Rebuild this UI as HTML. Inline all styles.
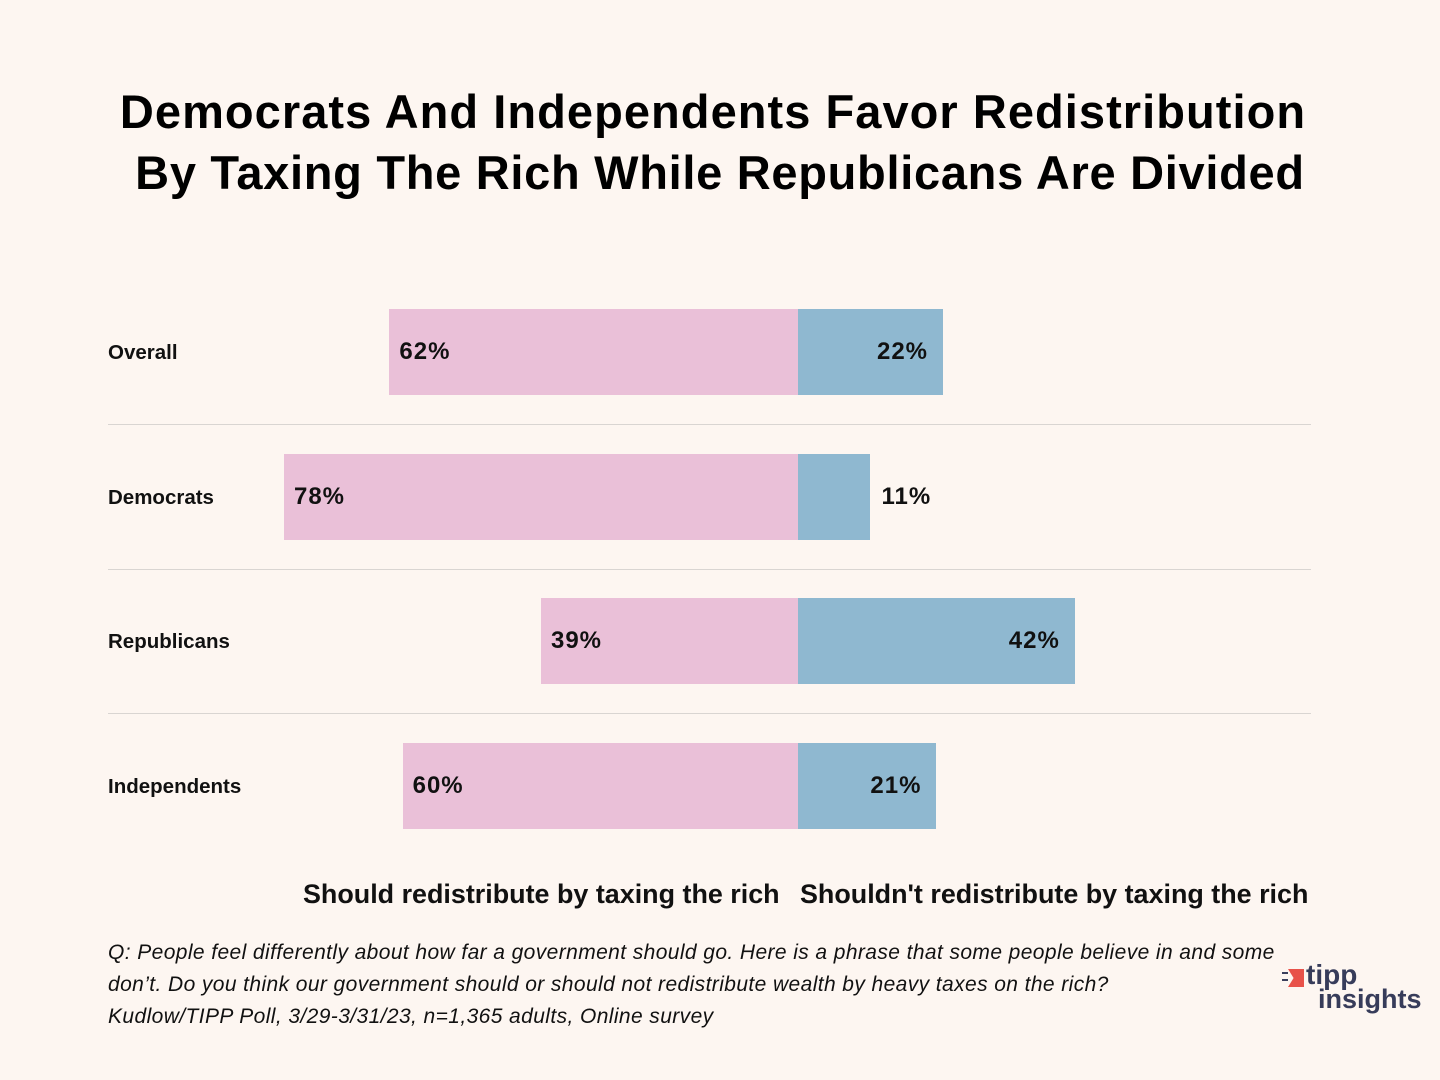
<!DOCTYPE html>
<html><head><meta charset="utf-8"><style>
body{margin:0;width:1440px;height:1080px;background:#fdf6f1;font-family:"Liberation Sans",sans-serif;overflow:hidden;position:relative}
.t{position:absolute;left:0;width:1426px;text-align:center;font-weight:bold;font-size:47px;color:#000;letter-spacing:1.05px}
.lbl{position:absolute;left:108px;font-weight:bold;font-size:20.5px;color:#111}
.bar{position:absolute;height:86px}
.v{position:absolute;font-weight:bold;font-size:24px;color:#111;letter-spacing:1px}
.sep{position:absolute;left:108px;width:1203px;height:1px;background:#d9d5d2}
.ax{position:absolute;top:879px;font-weight:bold;font-size:26.9px;color:#111}
.note{position:absolute;left:108px;font-style:italic;font-size:21px;letter-spacing:0.4px;color:#111}
</style></head><body>
<div class="t" style="top:84px">Democrats And Independents Favor Redistribution</div>
<div class="t" style="top:145px;left:7px;letter-spacing:0.7px">By Taxing The Rich While Republicans Are Divided</div>
<div id="chart"></div>
<div class="ax" style="left:303px">Should redistribute by taxing the rich</div>
<div class="ax" style="left:800px">Shouldn't redistribute by taxing the rich</div>
<div class="note" style="top:941px">Q: People feel differently about how far a government should go. Here is a phrase that some people believe in and some</div>
<div class="note" style="top:973px">don’t. Do you think our government should or should not redistribute wealth by heavy taxes on the rich?</div>
<div class="note" style="top:1005px">Kudlow/TIPP Poll, 3/29-3/31/23, n=1,365 adults, Online survey</div>
<div style="position:absolute;left:1282px;top:966px;width:145px;height:50px">
<div style="position:absolute;left:6px;top:3px;width:16px;height:18px;background:#e8524a;clip-path:polygon(0 0,100% 0,100% 100%,0 100%,35% 50%)"></div>
<div style="position:absolute;left:0;top:6px;width:6px;height:2px;background:#3a3f5c"></div>
<div style="position:absolute;left:0;top:13px;width:6px;height:2px;background:#3a3f5c"></div>
<div style="position:absolute;left:24px;top:-6px;font-weight:bold;font-size:28px;color:#373c5a;line-height:30px">tipp</div>
<div style="position:absolute;left:36px;top:18px;font-weight:bold;font-size:27px;color:#373c5a;line-height:30px">insights</div>
</div>
<script>
const categories=["Overall","Democrats","Republicans","Independents"];
const shouldVals=[62,78,39,60];
const shouldntVals=[22,11,42,21];
const chart=document.getElementById('chart');
const cx=798,pxPer=6.59,top0=309,pitch=144.7,bh=86;
function xs(v){return v*pxPer;}
categories.forEach((c,i)=>{
  const y=top0+i*pitch;
  const l=document.createElement('div');l.className='lbl';l.textContent=c;
  l.style.top=(y+32)+'px';
  
  
  chart.appendChild(l);
  const a=document.createElement('div');a.className='bar';
  a.style.cssText=`left:${cx-xs(shouldVals[i])}px;width:${xs(shouldVals[i])}px;top:${y}px;background:#eac0d8`;
  
  
  chart.appendChild(a);
  const b=document.createElement('div');b.className='bar';
  b.style.cssText=`left:${cx}px;width:${xs(shouldntVals[i])}px;top:${y}px;background:#8fb8d0`;
  
  
  chart.appendChild(b);
  const t1=document.createElement('div');t1.className='v';t1.textContent=shouldVals[i]+'%';
  t1.style.left=(cx-xs(shouldVals[i])+10)+'px';t1.style.top=(y+29)+'px';
  
  
  chart.appendChild(t1);
  const t2=document.createElement('div');t2.className='v';t2.textContent=shouldntVals[i]+'%';
  const w=xs(shouldntVals[i]);
  if(w>100){t2.style.left=(cx+w-66)+'px';}else{t2.style.left=(cx+w+11)+'px';}
  t2.style.top=(y+29)+'px';
  
  
  chart.appendChild(t2);
  if(i<categories.length-1){
    const s=document.createElement('div');s.className='sep';s.style.top=(y+bh+29)+'px';
    
    
    chart.appendChild(s);
  }
});
</script>
</body></html>
